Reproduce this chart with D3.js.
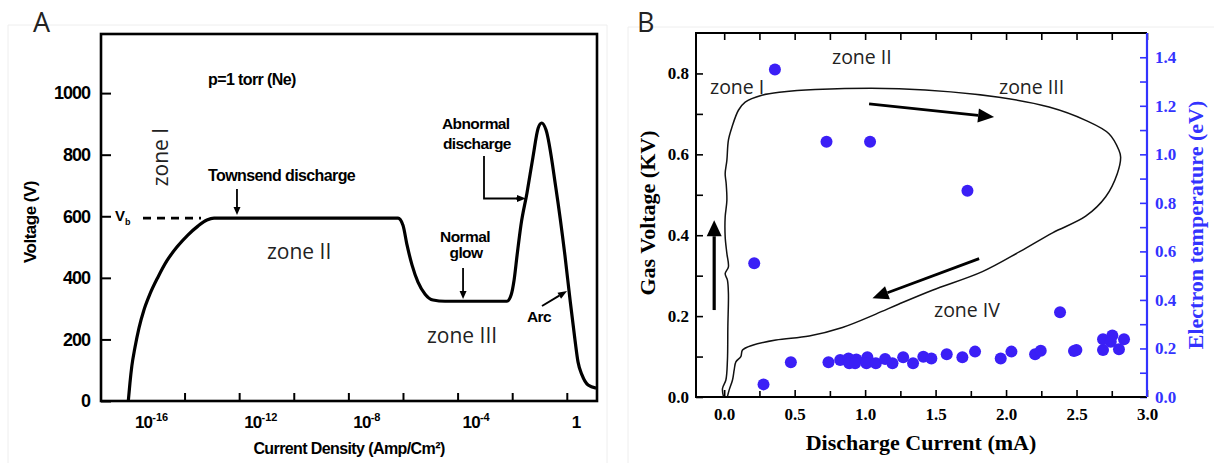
<!DOCTYPE html>
<html>
<head>
<meta charset="utf-8">
<script src="https://cdn.jsdelivr.net/npm/d3@7"></script>
<style>
  body { margin: 0; background: #fff; }
  svg { display: block; }
</style>
</head>
<body>
<svg id="fig" width="1214" height="463"></svg>
<script>
// ---------- Panel A: discharge voltage vs current density (Ne, 1 torr) ----------
// current density given as log10(J / Amp·cm^-2), voltage in volts
const aLogJ = [-16.06, -16.0, -15.93, -15.82, -15.67, -15.49, -15.27, -14.97, -14.65, -14.28,
               -13.88, -13.51, -13.18, -12.92,
               -6.18, -6.0, -5.85, -5.67, -5.45, -5.19, -4.90, -4.46,
               -2.19, -2.04, -1.93, -1.82, -1.68, -1.46, -1.24, -1.05, -0.92, -0.76,
               -0.40, -0.07, 0.12, 0.30, 0.41, 0.56, 0.78, 1.07];
const aVolt = [0, 58, 114, 172, 237, 295, 347, 403, 455, 500,
               539, 568, 588, 594,
               594, 571, 506, 442, 386, 347, 328, 324,
               324, 344, 393, 474, 571, 675, 792, 886, 903, 880,
               692, 474, 328, 198, 127, 84, 52, 42];
const aTickExp = [-14, -12, -10, -8, -6, -4, -2, 0];
const aLabelExp = [-16, -12, -8, -4, 0];
const aYTicks = [0, 200, 400, 600, 800, 1000];
const breakdownVoltage = 594;

// ---------- Panel B: gas voltage loop and electron temperature ----------
const bCurrent = [-0.005, -0.012, 0.012, 0.023, 0.026, 0.030, 0.023, 0.007, 0.030, 0.019,
                  0.007, 0.007, 0.019, 0.014, 0.007, 0.019, 0.030, 0.055, 0.101, 0.149,
                  0.267, 0.409, 0.645, 1.241, 1.950, 2.305, 2.565, 2.730, 2.801, 2.813,
                  2.789, 2.707, 2.565, 2.330, 2.100, 1.832, 1.477, 1.241, 1.076, 0.839,
                  0.603, 0.367, 0.201, 0.130, 0.118, 0.083, 0.071, 0.059, 0.035, 0.023];
const bVoltage = [0.001, 0.021, 0.042, 0.091, 0.174, 0.256, 0.289, 0.305, 0.322, 0.355,
                  0.396, 0.445, 0.486, 0.528, 0.552, 0.585, 0.635, 0.667, 0.709, 0.729,
                  0.746, 0.754, 0.760, 0.762, 0.741, 0.717, 0.684, 0.651, 0.610, 0.593,
                  0.552, 0.495, 0.447, 0.406, 0.360, 0.310, 0.264, 0.230, 0.205, 0.172,
                  0.151, 0.141, 0.128, 0.116, 0.100, 0.087, 0.067, 0.042, 0.017, 0.001];
const teCurrent = [0.36, 0.726, 1.035, 1.726, 0.213, 0.279, 0.473, 0.740, 0.823, 0.882,
                   0.887, 0.938, 0.929, 1.016, 1.009, 1.076, 1.142, 1.194, 1.270, 1.340,
                   1.413, 1.470, 1.579, 1.690, 1.780, 1.962, 2.038, 2.206, 2.246, 2.383,
                   2.482, 2.499, 2.688, 2.688, 2.754, 2.743, 2.801, 2.837];
const teValue = [1.35, 1.052, 1.052, 0.85, 0.551, 0.052, 0.143, 0.143, 0.152, 0.159,
                 0.139, 0.155, 0.139, 0.164, 0.139, 0.139, 0.157, 0.139, 0.164, 0.139,
                 0.166, 0.159, 0.176, 0.164, 0.187, 0.159, 0.187, 0.176, 0.191, 0.349,
                 0.190, 0.194, 0.194, 0.238, 0.253, 0.228, 0.197, 0.238];
const bXTicks = [0, 0.5, 1.0, 1.5, 2.0, 2.5, 3.0];
const bXMinor = [0.25, 0.75, 1.25, 1.75, 2.25, 2.75];
const bLeftTicks = [0, 0.2, 0.4, 0.6, 0.8];
const bLeftMinor = [0.1, 0.3, 0.5, 0.7];
const bRightTicks = [0, 0.2, 0.4, 0.6, 0.8, 1.0, 1.2, 1.4];
const bRightMinor = [0.1, 0.3, 0.5, 0.7, 0.9, 1.1, 1.3];

const svg = d3.select("#fig");
const BLUE = "#3333ff";
const DOT = "#3b1ff6";
const SANS = "'Liberation Sans', Arial, sans-serif";
const SERIF = "'Liberation Serif', 'Times New Roman', serif";
const LIGHT = "'Open Sans', 'Noto Sans', sans-serif";

// faint panel borders
svg.append("path").attr("d", "M8,463V25H607V463").attr("fill", "none").attr("stroke", "#eeeeee").attr("stroke-width", 1);
svg.append("path").attr("d", "M628,463V27H1214").attr("fill", "none").attr("stroke", "#eeeeee").attr("stroke-width", 1);

// arrow helper: shaft + filled triangular head
function arrow(g, x1, y1, x2, y2, headLen, headW, sw) {
  const ang = Math.atan2(y2 - y1, x2 - x1);
  const bx = x2 - headLen * Math.cos(ang), by = y2 - headLen * Math.sin(ang);
  g.append("line").attr("x1", x1).attr("y1", y1).attr("x2", bx).attr("y2", by)
    .attr("stroke", "#000").attr("stroke-width", sw);
  const px = -Math.sin(ang) * headW / 2, py = Math.cos(ang) * headW / 2;
  g.append("path")
    .attr("d", `M${x2},${y2}L${bx + px},${by + py}L${bx - px},${by - py}Z`)
    .attr("fill", "#000");
}

// ================= Panel A =================
const gA = svg.append("g");
const xA = d3.scaleLog().domain([Math.pow(10, -17.06), Math.pow(10, 1.106)]).range([101, 597]);
const yA = d3.scaleLinear().domain([0, 1192]).range([401, 34]);

gA.append("text").attr("x", 33).attr("y", 32).attr("font-family", LIGHT)
  .attr("font-size", 27).attr("fill", "#222").text("A");

// bottom ticks (inward)
gA.append("g").attr("transform", "translate(0,401)")
  .call(d3.axisBottom(xA).tickValues(aTickExp.map(e => Math.pow(10, e))).tickSize(-8).tickFormat(""))
  .call(g => g.select(".domain").remove())
  .call(g => g.selectAll("line").attr("stroke", "#000").attr("stroke-width", 2));

// left ticks + labels
gA.append("g").attr("transform", "translate(101,0)")
  .call(d3.axisLeft(yA).tickValues(aYTicks).tickSize(-10).tickPadding(11).tickFormat(d3.format("d")))
  .call(g => g.select(".domain").remove())
  .call(g => g.selectAll("line").attr("stroke", "#000").attr("stroke-width", 2))
  .call(g => g.selectAll("text").attr("font-family", SANS).attr("font-weight", "bold")
    .attr("font-size", 18).attr("letter-spacing", -1).attr("fill", "#000"));

// frame
gA.append("rect").attr("x", 101).attr("y", 34).attr("width", 496).attr("height", 367)
  .attr("fill", "none").attr("stroke", "#000").attr("stroke-width", 2.6);

// x labels 10^n
aLabelExp.forEach(e => {
  const t = gA.append("text").attr("x", xA(Math.pow(10, e)) + 5).attr("y", 428)
    .attr("font-family", SANS).attr("font-weight", "bold").attr("font-size", 17)
    .attr("letter-spacing", -0.8).attr("fill", "#000");
  if (e === 0) { t.text("1"); return; }
  t.append("tspan").text("10");
  t.append("tspan").attr("dy", -7).attr("font-size", 11).attr("letter-spacing", 0).text(String(e));
});

// axis titles
gA.append("text").attr("x", 349).attr("y", 454).attr("text-anchor", "middle")
  .attr("font-family", SANS).attr("font-weight", "bold").attr("font-size", 16)
  .attr("letter-spacing", -0.6).attr("fill", "#000")
  .text("Current Density (Amp/Cm²)");
gA.append("text").attr("transform", "translate(36,222) rotate(-90)").attr("text-anchor", "middle")
  .attr("font-family", SANS).attr("font-weight", "bold").attr("font-size", 17)
  .attr("letter-spacing", -0.5).attr("fill", "#000").text("Voltage (V)");

// characteristic curve
const lineA = d3.line().x(d => xA(Math.pow(10, d[0]))).y(d => yA(d[1])).curve(d3.curveMonotoneX);
gA.append("path").datum(aLogJ.map((v, i) => [v, aVolt[i]])).attr("d", lineA)
  .attr("fill", "none").attr("stroke", "#000").attr("stroke-width", 3.2).attr("stroke-linejoin", "round");

// breakdown voltage dashed line
gA.append("line").attr("x1", 143).attr("x2", 201)
  .attr("y1", yA(breakdownVoltage)).attr("y2", yA(breakdownVoltage))
  .attr("stroke", "#000").attr("stroke-width", 2.6).attr("stroke-dasharray", "8,6");
const vb = gA.append("text").attr("x", 115).attr("y", yA(breakdownVoltage) + 3)
  .attr("font-family", SANS).attr("font-weight", "bold").attr("font-size", 15).attr("fill", "#000");
vb.append("tspan").text("V");
vb.append("tspan").attr("dy", 4).attr("font-size", 9).text("b");

// annotations
const boldA = (x, y, s, size = 16) => gA.append("text").attr("x", x).attr("y", y)
  .attr("font-family", SANS).attr("font-weight", "bold").attr("font-size", size)
  .attr("letter-spacing", -0.6).attr("fill", "#000").text(s);
boldA(208, 85, "p=1 torr (Ne)");
boldA(208, 181, "Townsend discharge");
boldA(442, 129, "Abnormal", 15.5);
boldA(443, 149, "discharge", 15.5);
gA.append("text").attr("x", 465).attr("y", 242).attr("text-anchor", "middle")
  .attr("font-family", SANS).attr("font-weight", "bold").attr("font-size", 15.5)
  .attr("letter-spacing", -0.6).text("Normal");
gA.append("text").attr("x", 466).attr("y", 258).attr("text-anchor", "middle")
  .attr("font-family", SANS).attr("font-weight", "bold").attr("font-size", 15.5)
  .attr("letter-spacing", -0.6).text("glow");
boldA(527, 322, "Arc", 15.5);

arrow(gA, xA(Math.pow(10, -12.08)), 189, xA(Math.pow(10, -12.08)), 215, 8, 7, 1.8);
arrow(gA, xA(Math.pow(10, -3.80)), 268, xA(Math.pow(10, -3.80)), 299, 8, 7, 1.8);
gA.append("path").attr("d", `M484,156V198.5H518`).attr("fill", "none")
  .attr("stroke", "#000").attr("stroke-width", 1.8);
arrow(gA, 516, 198.5, 526, 198.5, 9, 7, 1.8);
arrow(gA, 542, 306, 567, 291, 9, 7, 2);

// zone labels
const zoneA = (x, y, s) => gA.append("text").attr("x", x).attr("y", y)
  .attr("font-family", LIGHT).attr("font-size", 21).attr("fill", "#222").text(s);
zoneA(267, 259, "zone II");
zoneA(427, 343, "zone III");
gA.append("text").attr("transform", "translate(168,157) rotate(-90)").attr("text-anchor", "middle")
  .attr("font-family", LIGHT).attr("font-size", 21).attr("fill", "#222").text("zone I");

// ================= Panel B =================
const gB = svg.append("g");
const xB = d3.scaleLinear().domain([-0.2, 3.0]).range([696, 1147]);
const yB = d3.scaleLinear().domain([0, 0.9]).range([397, 33]);
const yT = d3.scaleLinear().domain([0, 1.5]).range([397, 33]);

gB.append("text").attr("x", 637).attr("y", 32).attr("font-family", LIGHT)
  .attr("font-size", 27).attr("fill", "#222").text("B");

const styleTicks = (g, color) => {
  g.select(".domain").remove();
  g.selectAll("line").attr("stroke", color).attr("stroke-width", 1.6);
  g.selectAll("text").attr("font-family", SERIF).attr("font-weight", "bold")
    .attr("font-size", 17).attr("fill", color);
};

// bottom
gB.append("g").attr("transform", "translate(0,397)")
  .call(d3.axisBottom(xB).tickValues(bXTicks).tickSize(-7).tickPadding(11).tickFormat(d3.format(".1f")))
  .call(g => styleTicks(g, "#000"));
gB.append("g").attr("transform", "translate(0,397)")
  .call(d3.axisBottom(xB).tickValues(bXMinor).tickSize(-6).tickFormat(""))
  .call(g => styleTicks(g, "#000"));
// top
gB.append("g").attr("transform", "translate(0,33)")
  .call(d3.axisTop(xB).tickValues(bXTicks.concat(bXMinor)).tickSize(-7).tickFormat(""))
  .call(g => styleTicks(g, "#000"));
// left
gB.append("g").attr("transform", "translate(696,0)")
  .call(d3.axisLeft(yB).tickValues(bLeftTicks).tickSize(-7).tickPadding(7).tickFormat(d3.format(".1f")))
  .call(g => styleTicks(g, "#000"));
gB.append("g").attr("transform", "translate(696,0)")
  .call(d3.axisLeft(yB).tickValues(bLeftMinor).tickSize(-7).tickFormat(""))
  .call(g => styleTicks(g, "#000"));
// right (electron temperature)
gB.append("g").attr("transform", "translate(1147,0)")
  .call(d3.axisRight(yT).tickValues(bRightTicks).tickSize(-7).tickPadding(8).tickFormat(d3.format(".1f")))
  .call(g => styleTicks(g, BLUE));
gB.append("g").attr("transform", "translate(1147,0)")
  .call(d3.axisRight(yT).tickValues(bRightMinor).tickSize(-7).tickFormat(""))
  .call(g => styleTicks(g, BLUE));

// frame: black on three sides, blue on the right
gB.append("path").attr("d", "M1147,33H696V397H1147").attr("fill", "none")
  .attr("stroke", "#000").attr("stroke-width", 2);
gB.append("line").attr("x1", 1147).attr("x2", 1147).attr("y1", 33).attr("y2", 397)
  .attr("stroke", BLUE).attr("stroke-width", 2.2);

// axis titles
gB.append("text").attr("x", 921).attr("y", 450).attr("text-anchor", "middle")
  .attr("font-family", SERIF).attr("font-weight", "bold").attr("font-size", 22)
  .attr("fill", "#000").text("Discharge Current (mA)");
gB.append("text").attr("transform", "translate(655,213) rotate(-90)").attr("text-anchor", "middle")
  .attr("font-family", SERIF).attr("font-weight", "bold").attr("font-size", 22)
  .attr("fill", "#000").text("Gas Voltage (KV)");
gB.append("text").attr("transform", "translate(1203,225) rotate(-90)").attr("text-anchor", "middle")
  .attr("font-family", SERIF).attr("font-weight", "bold").attr("font-size", 22)
  .attr("fill", BLUE).text("Electron temperature (eV)");

// voltage–current loop
const lineB = d3.line().x(d => xB(d[0])).y(d => yB(d[1])).curve(d3.curveCatmullRom.alpha(0.5));
gB.append("path").datum(bCurrent.map((v, i) => [v, bVoltage[i]])).attr("d", lineB)
  .attr("fill", "none").attr("stroke", "#111").attr("stroke-width", 1.5).attr("stroke-linejoin", "round");

// electron temperature points
gB.selectAll("circle.te").data(teCurrent.map((v, i) => [v, teValue[i]])).join("circle")
  .attr("class", "te").attr("cx", d => xB(d[0])).attr("cy", d => yT(d[1])).attr("r", 6)
  .attr("fill", DOT);

// direction arrows
arrow(gB, xB(-0.071), yB(0.215), xB(-0.071), yB(0.437), 16, 15, 3.2);
arrow(gB, xB(1.028), yB(0.725), xB(1.915), yB(0.692), 16, 14, 2.8);
arrow(gB, xB(1.809), yB(0.342), xB(1.052), yB(0.244), 16, 14, 2.8);

// zone labels
const zoneB = (x, y, s) => gB.append("text").attr("x", x).attr("y", y)
  .attr("font-family", LIGHT).attr("font-size", 19.5).attr("fill", "#222").text(s);
zoneB(710, 94, "zone I");
zoneB(832, 64, "zone II");
zoneB(999, 94, "zone III");
zoneB(934, 317, "zone IV");
</script>
</body>
</html>
